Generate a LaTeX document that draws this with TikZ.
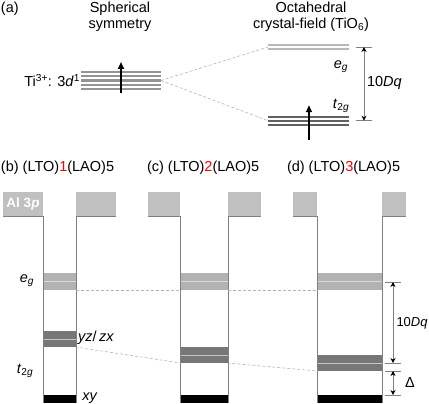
\documentclass[tikz,border=0pt]{standalone}
\usepackage{fontspec}
\setmainfont{Liberation Sans}
\usetikzlibrary{arrows.meta,positioning,calc}
\definecolor{barrgray}{HTML}{C0C0C0}
\definecolor{wallgray}{HTML}{808080}
\definecolor{eggray}{HTML}{B2B2B2}
\definecolor{yzgray}{HTML}{777777}
\definecolor{guidegray}{HTML}{B4B4B4}

\begin{document}
\begin{tikzpicture}[
x=1pt, y=-1pt,
every node/.style={inner sep=0pt, outer sep=0pt},
font=\fontsize{14.5}{16}\selectfont,
level/.style={
rectangle,
minimum width=81pt,
minimum height=#1
},
sphline/.style={draw=black!42, line width=2.2pt},
egline/.style={draw=black!28, line width=2pt},
tline/.style={draw=black!62, line width=2pt},
band/.style={
rectangle,
minimum height=#1
},
egband/.style={band=17pt, fill=eggray},
yzband/.style={band=16pt, fill=yzgray},
xyband/.style={band=8pt, fill=black},
split/.style={draw=white!85!black, line width=1pt},
barrier/.style={
rectangle,
fill=barrgray,
minimum height=24pt,
text=white,
font=\fontsize{13.5}{16}\selectfont\bfseries
},
wall/.style={draw=wallgray, line width=1pt},
guide/.style={draw=guidegray, densely dashed, line width=0.6pt},
spin/.style={-{Triangle[length=7pt,width=6pt]}, line width=2.2pt},
dim/.style={{Stealth[length=5pt,width=5pt,color=black]}-{Stealth[length=5pt,width=5pt,color=black]}, draw=black!50, line width=0.7pt},
tick/.style={draw=black!50, line width=0.7pt}
]
\useasboundingbox (0,0) rectangle (429,404);

% panel (a)
\node[anchor=west] (lblA) at (1,9) {(a)};
\node[align=center] (ttlSph) at (120,17) {Spherical\\symmetry};
\node[align=center] (ttlOct) at (311,17) {Octahedral\\crystal-field (TiO\textsubscript{6})};
\node[anchor=base east] (tiLbl) at (80,86.5) {Ti\textsuperscript{3+}: 3\textit{d}\textsuperscript{1}};

\node[level=19pt, minimum width=80pt] (sph) at (121,80.5) {};
\foreach \dy in {-8.5,-4.25,0,4.25,8.5}
  \draw[sphline] ($(sph.west)+(0,\dy)$) -- ($(sph.east)+(0,\dy)$);

\node[level=6pt] (egA) at (308.5,47) {};
\foreach \dy in {-2,2}
  \draw[egline] ($(egA.west)+(0,\dy)$) -- ($(egA.east)+(0,\dy)$);

\node[level=10pt] (tA) at (308.5,120.7) {};
\foreach \dy in {-4,0,4}
  \draw[tline] ($(tA.west)+(0,\dy)$) -- ($(tA.east)+(0,\dy)$);

\draw[guide] (sph.east) -- (egA.west);
\draw[guide] (sph.east) -- (tA.west);

\draw[spin] ([yshift=-3pt]sph.south) -- ([yshift=9pt]sph.north);
\draw[spin] ([xshift=0.5pt,yshift=-14pt]tA.south) -- ([xshift=0.5pt,yshift=10.5pt]tA.north);

\node (egLblA) at (341,67) {\textit{e}\textsubscript{\textit{g}}};
\node (tLblA) at (341,106) {\textit{t}\textsubscript{2\textit{g}}};

\coordinate (dAtop) at (364,47);
\coordinate (dAbot) at (364,120.7);
\draw[tick] ([xshift=-8pt]dAtop) -- ([xshift=8pt]dAtop);
\draw[tick] ([xshift=-8pt]dAbot) -- ([xshift=8pt]dAbot);
\draw[dim] (dAtop) -- (dAbot);
\node[anchor=west] (dqA) at (367,83) {10\textit{Dq}};

% panels (b)-(d)
\node[anchor=west] (ttlB) at (1,167.5) {(b) (LTO)\textcolor{red}{1}(LAO)5};
\node[anchor=west] (ttlC) at (147,167.5) {(c) (LTO)\textcolor{red}{2}(LAO)5};
\node[anchor=west] (ttlD) at (287,167.5) {(d) (LTO)\textcolor{red}{3}(LAO)5};

\node[barrier, minimum width=40pt] (bar1) at (23,204) {Al 3\textit{p}};
\node[barrier, minimum width=40pt] (bar2) at (96,204) {};
\node[barrier, minimum width=32pt] (bar3) at (164,204) {};
\node[barrier, minimum width=33pt] (bar4) at (244.5,204) {};
\node[barrier, minimum width=24pt] (bar5) at (305,204) {};
\node[barrier, minimum width=24pt] (bar6) at (394,204) {};

\coordinate (floor) at (0,403);
\draw[wall] (bar1.south west) -- (bar1.south east) -- (bar1.south east |- floor);
\draw[wall] (bar2.south east) -- (bar2.south west) -- (bar2.south west |- floor);
\draw[wall] (bar3.south west) -- (bar3.south east) -- (bar3.south east |- floor);
\draw[wall] (bar4.south east) -- (bar4.south west) -- (bar4.south west |- floor);
\draw[wall] (bar5.south west) -- (bar5.south east) -- (bar5.south east |- floor);
\draw[wall] (bar6.south east) -- (bar6.south west) -- (bar6.south west |- floor);

% wells
\node[egband, minimum width=32pt] (egB) at (59.5,281.5) {};
\node[yzband, minimum width=32pt] (yzB) at (59.5,339) {};
\node[xyband, minimum width=32pt] (xyB) at (59.5,399) {};

\node[egband, minimum width=47pt] (egC) at (204,281.5) {};
\node[yzband, minimum width=47pt] (yzC) at (204,355) {};
\node[xyband, minimum width=47pt] (xyC) at (204,399) {};

\node[egband, minimum width=64pt] (egD) at (349.5,281.5) {};
\node[yzband, minimum width=64pt] (yzD) at (349.5,363) {};
\node[xyband, minimum width=64pt] (xyD) at (349.5,399) {};

\foreach \b in {egB,egC,egD}
  \draw[split] (\b.west) -- (\b.east);
\foreach \b in {yzB,yzC,yzD}
  \draw[split, draw=black!22] (\b.west) -- (\b.east);

\draw[guide] (egB.south east) -- (egC.south west);
\draw[guide] (egC.south east) -- (egD.south west);
\draw[guide] (yzB.south east) -- (yzC.south west);
\draw[guide] (yzC.south east) -- (yzD.south west);

\node (egLblB) at (27,281) {\textit{e}\textsubscript{\textit{g}}};
\node (tLblB) at (25,371) {\textit{t}\textsubscript{2\textit{g}}};
\node (yzLbl) at (96,338) {\textit{yz}/\,\textit{zx}};
\node (xyLbl) at (90,398) {\textit{xy}};

\coordinate (dDtop) at (393,282);
\coordinate (dDmid) at (393,363);
\coordinate (dDlow) at (393,371);
\coordinate (dDbot) at (393,395);
\foreach \c in {dDtop,dDmid,dDlow,dDbot}
  \draw[tick] ([xshift=-8pt]\c) -- ([xshift=8pt]\c);
\draw[dim] (dDtop) -- (dDmid);
\draw[dim] (dDlow) -- (dDbot);
\node[anchor=west, font=\fontsize{13}{16}\selectfont] (dqD) at (396.5,323) {10\textit{Dq}};
\node (deltaLbl) at (410,383) {Δ};

\end{tikzpicture}
\end{document}
